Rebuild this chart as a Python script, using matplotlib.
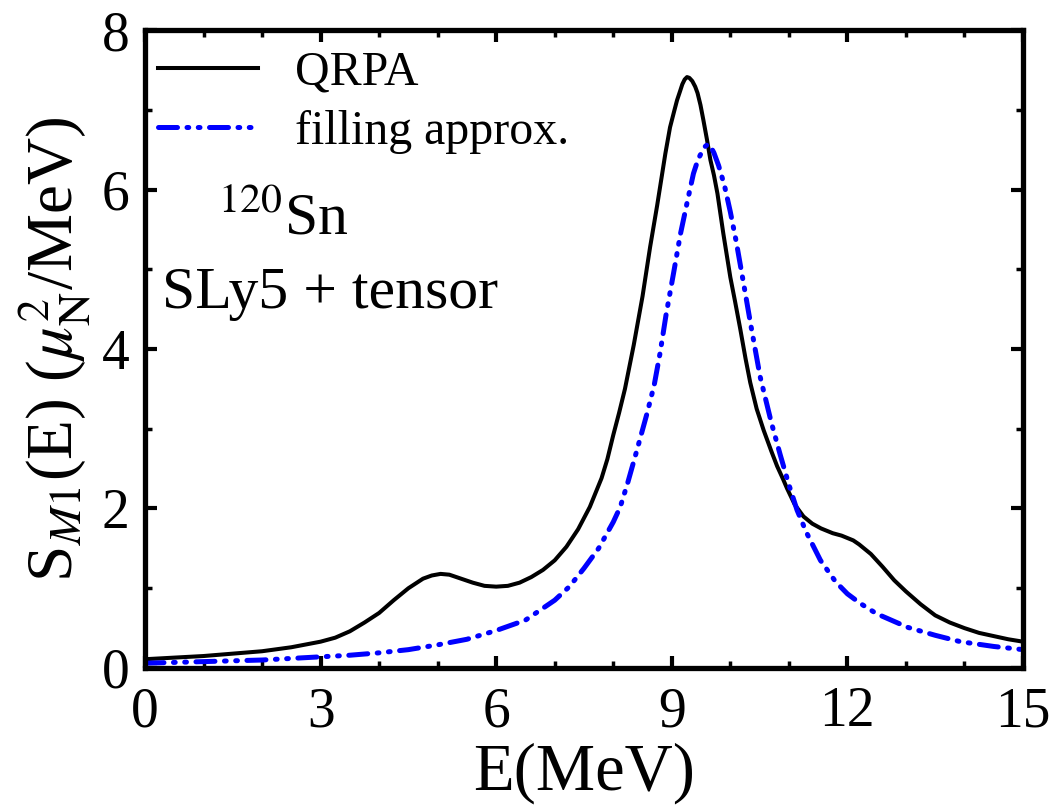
import matplotlib
matplotlib.use("Agg")
import matplotlib.pyplot as plt

# ---- data ----
E_qrpa = [0.0, 0.5, 1.0, 1.5, 2.0, 2.5, 3.0, 3.25, 3.5, 3.75, 4.0, 4.25, 4.5, 4.75,
          4.9, 5.05, 5.2, 5.4, 5.6, 5.8, 6.0, 6.2, 6.4, 6.6, 6.8, 7.0, 7.2, 7.4,
          7.6, 7.8, 7.9, 8.0, 8.1, 8.2, 8.35, 8.5, 8.63, 8.75, 8.89, 8.97, 9.04, 9.09, 9.14,
          9.18, 9.22, 9.26, 9.3, 9.35, 9.4, 9.44, 9.49, 9.54, 9.6, 9.66, 9.72,
          9.78, 9.88, 10.0, 10.08, 10.17, 10.26, 10.34, 10.45, 10.57, 10.7, 10.8,
          10.9, 10.97, 11.1, 11.25, 11.4, 11.55, 11.75, 11.9, 12.0, 12.1, 12.2,
          12.4, 12.6, 12.8, 13.0, 13.25, 13.5, 13.75, 14.0, 14.25, 14.5, 14.75, 15.0]
S_qrpa = [0.11, 0.13, 0.15, 0.18, 0.21, 0.26, 0.33, 0.38, 0.46, 0.57, 0.69, 0.85, 1.00, 1.12,
          1.16, 1.18, 1.17, 1.12, 1.07, 1.03, 1.02, 1.03, 1.07, 1.14, 1.23, 1.35, 1.52, 1.74,
          2.02, 2.38, 2.62, 2.92, 3.20, 3.50, 4.05, 4.66, 5.28, 5.80, 6.45, 6.78, 6.98, 7.12, 7.23,
          7.32, 7.38, 7.41, 7.40, 7.36, 7.29, 7.21, 7.06, 6.87, 6.63, 6.37, 6.18,
          5.95, 5.45, 4.90, 4.60, 4.25, 3.88, 3.58, 3.25, 2.98, 2.72, 2.53,
          2.37, 2.25, 2.05, 1.90, 1.81, 1.75, 1.69, 1.66, 1.63, 1.60, 1.55,
          1.43, 1.27, 1.10, 0.96, 0.80, 0.66, 0.57, 0.50, 0.44, 0.40, 0.36, 0.33]

E_fill = [0.0, 1.0, 2.0, 3.0, 3.5, 4.0, 4.5, 5.0, 5.5, 6.0, 6.5, 7.0, 7.25, 7.5, 7.75,
          8.0, 8.12, 8.25, 8.4, 8.58, 8.7, 8.8, 8.9, 9.03, 9.15, 9.26, 9.37, 9.45,
          9.52, 9.57, 9.62, 9.67, 9.72, 9.8, 9.9, 10.0, 10.1, 10.22, 10.35, 10.51,
          10.7, 10.85, 11.0, 11.14, 11.3, 11.54, 11.8, 12.0, 12.22, 12.5, 13.03,
          13.5, 13.93, 14.5, 15.0]
S_fill = [0.06, 0.08, 0.10, 0.14, 0.16, 0.19, 0.23, 0.29, 0.36, 0.47, 0.60, 0.85, 1.02, 1.25, 1.50,
          1.83, 2.02, 2.33, 2.72, 3.20, 3.55, 3.95, 4.42, 4.95, 5.45, 5.83, 6.20, 6.38,
          6.48, 6.54, 6.57, 6.53, 6.46, 6.30, 6.05, 5.72, 5.35, 4.85, 4.30, 3.65,
          3.08, 2.68, 2.30, 1.98, 1.70, 1.35, 1.08, 0.93, 0.81, 0.68, 0.51,
          0.41, 0.33, 0.27, 0.23]

labels = ["QRPA", "filling approx."]
x_ticks = [0, 3, 6, 9, 12, 15]
y_ticks = [0, 2, 4, 6, 8]

# ---- style ----
plt.rcParams['font.family'] = ['Liberation Serif', 'DejaVu Serif']
plt.rcParams['mathtext.fontset'] = 'stix'

fig = plt.figure(figsize=(10.59, 8.05), dpi=100)
ax = fig.add_axes([0.1369, 0.1702, 0.8291, 0.7925])

ax.plot(E_qrpa, S_qrpa, color='black', lw=2.9, label=labels[0])
ax.plot(E_fill, S_fill, color='blue', lw=3.6, dash_capstyle='round',
        linestyle=(0, (3.8, 1.9, 0.35, 1.9, 0.35, 1.9)), label=labels[1])

ax.set_xlim(0, 15)
ax.set_ylim(0, 8)
ax.set_xticks(x_ticks)
ax.set_yticks(y_ticks)
ax.set_xticks(range(0, 16), minor=True)
ax.set_yticks(range(0, 9), minor=True)

for s in ax.spines.values():
    s.set_linewidth(3.8)

ax.tick_params(which='both', direction='in', top=True, right=True)
ax.tick_params(which='major', length=8.5, width=3.0, labelsize=40)
ax.tick_params(which='minor', length=5, width=2.5)
ax.tick_params(axis='x', which='major', pad=13)
ax.tick_params(axis='y', which='major', pad=11)

ax.set_xlabel('E(MeV)', fontsize=48, labelpad=3)
ax.set_ylabel(r'S$_{M1}$(E) ($\mu_{\mathrm{N}}^{2}$/MeV)', fontsize=47, labelpad=6)

ax.text(1.25, 5.45, r'$^{120}$Sn', fontsize=43, va='baseline', ha='left')
ax.text(0.29, 4.51, 'SLy5 + tensor', fontsize=43, va='baseline', ha='left')

ax.legend(loc='upper left', bbox_to_anchor=(0.0148, 0.968), frameon=False,
          fontsize=34.5, handlelength=2.08, handletextpad=0.77,
          labelspacing=0.33, borderaxespad=0.0, borderpad=0.0)

fig.savefig('out.png', dpi=100)
